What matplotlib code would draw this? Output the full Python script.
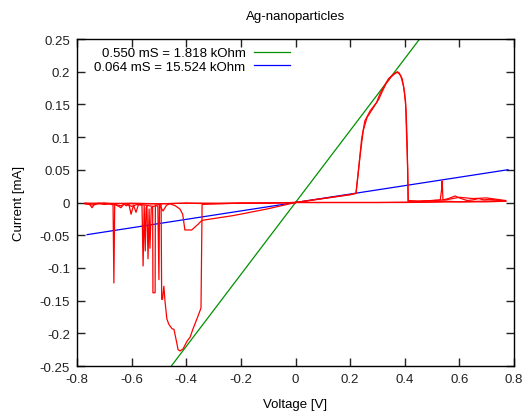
import matplotlib
matplotlib.use('Agg')
import matplotlib.pyplot as plt
import numpy as np

# I-V sweeps of the Ag-nanoparticle sample (voltage in V, current in mA)

# first positive sweep: low state, switch on at ~0.22 V, switch off at ~0.41 V
pos_up_v = [0.0, 0.05, 0.10, 0.15, 0.20, 0.2215, 0.232, 0.242, 0.254, 0.273, 0.297,
            0.309, 0.322, 0.340, 0.358, 0.373, 0.385, 0.395, 0.403, 0.407, 0.411, 0.413]
pos_up_i = [0.0, 0.003, 0.006, 0.009, 0.012, 0.014, 0.055, 0.097, 0.125, 0.140, 0.153,
            0.166, 0.176, 0.189, 0.196, 0.200, 0.194, 0.179, 0.154, 0.097, 0.050, 0.002]

pos_tail_v = [0.413, 0.45, 0.50, 0.53, 0.535, 0.537, 0.540, 0.56, 0.584, 0.60, 0.628,
              0.65, 0.67, 0.69, 0.712, 0.73, 0.75, 0.77]
pos_tail_i = [0.002, 0.002, 0.003, 0.004, 0.020, 0.033, 0.004, 0.006, 0.010, 0.007, 0.003,
              0.004, 0.006, 0.004, 0.005, 0.004, 0.003, 0.002]

pos_back_v = [0.77, 0.70, 0.60, 0.55, 0.50, 0.40, 0.30, 0.20, 0.10, 0.0]
pos_back_i = [0.002, 0.001, 0.001, 0.002, 0.001, 0.0005, 0.0, 0.0, 0.0, 0.0]

# second positive sweep, nearly on top of the first one
pos2_v = [0.0, 0.10, 0.20, 0.2215, 0.236, 0.248, 0.262, 0.285, 0.305, 0.318, 0.332,
          0.350, 0.366, 0.378, 0.390, 0.399, 0.405, 0.409, 0.412, 0.45, 0.55, 0.60,
          0.65, 0.70, 0.77, 0.60, 0.40, 0.20, 0.0]
pos2_i = [0.0, 0.006, 0.012, 0.014, 0.070, 0.110, 0.130, 0.145, 0.158, 0.170, 0.182,
          0.192, 0.198, 0.199, 0.190, 0.170, 0.140, 0.090, 0.003, 0.002, 0.004, 0.008,
          0.006, 0.007, 0.003, 0.001, 0.0, 0.0, 0.0]

# negative sweeps
neg_out_v = [0.0, -0.10, -0.20, -0.30, -0.40, -0.50, -0.60, -0.70, -0.77]
neg_out_i = [0.0, -0.0005, -0.001, -0.001, -0.001, -0.002, -0.001, -0.002, -0.002]

neg_back_v = [-0.77, -0.74, -0.72, -0.70, -0.68, -0.668, -0.665, -0.662, -0.64, -0.62,
              -0.60, -0.58, -0.562, -0.558, -0.554, -0.550, -0.547, -0.544, -0.540,
              -0.536, -0.533, -0.528, -0.523, -0.522, -0.514, -0.513, -0.504, -0.500,
              -0.498, -0.492, -0.490, -0.487, -0.482, -0.478, -0.471, -0.464, -0.452,
              -0.445, -0.434, -0.430, -0.423, -0.412, -0.397, -0.386, -0.375, -0.361,
              -0.350, -0.346, -0.342, -0.30, -0.20, -0.10, 0.0]
neg_back_i = [-0.002, -0.004, -0.001, -0.003, -0.002, -0.004, -0.123, -0.003, -0.005, -0.002,
              -0.006, -0.003, -0.004, -0.097, -0.005, -0.074, -0.008, -0.006, -0.086,
              -0.010, -0.070, -0.008, -0.006, -0.138, -0.138, -0.004, -0.006, -0.118,
              -0.004, -0.003, -0.148, -0.148, -0.128, -0.150, -0.178, -0.186, -0.193,
              -0.194, -0.216, -0.225, -0.227, -0.224, -0.212, -0.206, -0.193, -0.178,
              -0.166, -0.161, -0.003, -0.002, -0.001, -0.001, 0.0]

neg2_out_v = [0.0, -0.10, -0.20, -0.30, -0.40, -0.50, -0.60, -0.70, -0.77]
neg2_out_i = [0.0, -0.001, -0.001, -0.002, -0.001, -0.002, -0.002, -0.001, -0.001]

neg2_back_v = [-0.77, -0.755, -0.745, -0.735, -0.70, -0.66, -0.639, -0.628, -0.620, -0.610,
               -0.602, -0.593, -0.584, -0.575, -0.55, -0.52, -0.50, -0.485, -0.472,
               -0.460, -0.440, -0.423, -0.413, -0.405, -0.380, -0.356, -0.344, -0.338,
               -0.228, -0.105, 0.0]
neg2_back_i = [-0.001, -0.002, -0.008, -0.002, -0.001, -0.003, -0.008, -0.002, -0.005, -0.003,
               -0.018, -0.004, -0.015, -0.003, -0.004, -0.006, -0.003, -0.013, -0.004,
               -0.002, -0.005, -0.010, -0.018, -0.042, -0.042, -0.033, -0.028, -0.027,
               -0.020, -0.010, 0.0]

# linear fits through the origin (conductance in mS)
fit_g = [0.550, 0.06442]
fit_labels = ['0.550 mS = 1.818 kOhm', '0.064 mS = 15.524 kOhm']
fit_colors = ['#009000', '#0000ff']
fit_v = np.array([-0.763, 0.778])

xticks = [-0.8, -0.6, -0.4, -0.2, 0.0, 0.2, 0.4, 0.6, 0.8]
xtick_labels = ['-0.8', '-0.6', '-0.4', '-0.2', '0', '0.2', '0.4', '0.6', '0.8']
yticks = [-0.25, -0.2, -0.15, -0.1, -0.05, 0.0, 0.05, 0.1, 0.15, 0.2, 0.25]
ytick_labels = ['-0.25', '-0.2', '-0.15', '-0.1', '-0.05', '0', '0.05', '0.1', '0.15', '0.2', '0.25']

plt.rcParams['font.family'] = ['Liberation Sans', 'DejaVu Sans']
fs = 9.5

fig = plt.figure(figsize=(5.25, 4.14), dpi=100)
ax = fig.add_axes([77 / 525, 1 - 367 / 414, 437 / 525, 327 / 414])

sweeps = [(pos_up_v, pos_up_i), (pos_tail_v, pos_tail_i), (pos_back_v, pos_back_i),
          (pos2_v, pos2_i), (neg_out_v, neg_out_i), (neg_back_v, neg_back_i),
          (neg2_out_v, neg2_out_i), (neg2_back_v, neg2_back_i)]
for v, i in sweeps:
    ax.plot(v, i, color='#ff0000', lw=0.9, zorder=3)

for g, lab, col in zip(fit_g, fit_labels, fit_colors):
    ax.plot(fit_v, g * fit_v, color=col, lw=0.9, label=lab, zorder=2)

ax.set_xlim(-0.8, 0.8)
ax.set_ylim(-0.25, 0.25)
ax.set_xticks(xticks)
ax.set_xticklabels(xtick_labels)
ax.set_yticks(yticks)
ax.set_yticklabels(ytick_labels)
ax.tick_params(direction='in', length=6, width=1, top=True, right=True,
               labelsize=fs, pad=5, colors='#222222')
for s in ax.spines.values():
    s.set_linewidth(1)

ax.set_xlabel('Voltage [V]', fontsize=fs)
ax.xaxis.set_label_coords(0.5, -0.097)
ax.set_ylabel('Current [mA]', fontsize=fs)
ax.yaxis.set_label_coords(-0.12, 0.5)
fig.text(295.5 / 525, 1 - 17 / 414, 'Ag-nanoparticles', ha='center', va='center', fontsize=fs)

ax.legend(loc='upper right', bbox_to_anchor=(0.487, 0.975), frameon=False, markerfirst=False,
          fontsize=fs, handlelength=2.7, handletextpad=0.65, labelspacing=0.08,
          borderpad=0, borderaxespad=0)

fig.savefig('out.png', dpi=100)
